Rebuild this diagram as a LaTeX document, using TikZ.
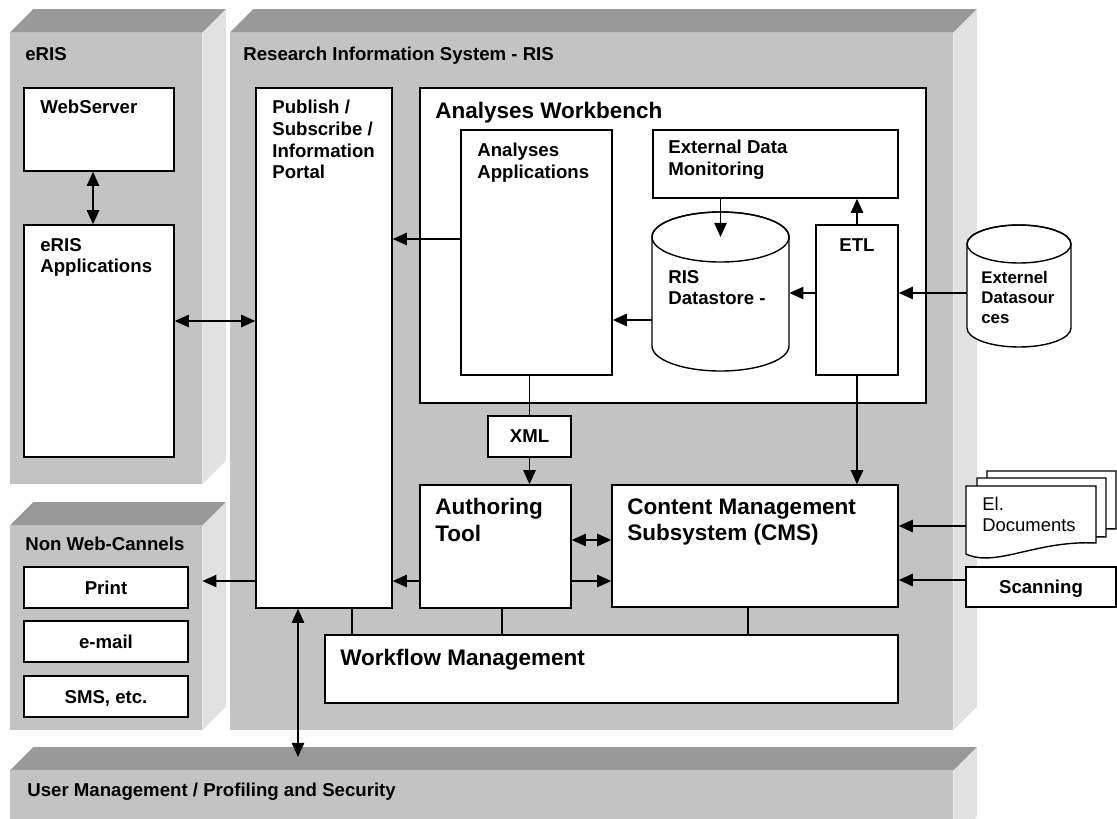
\documentclass[tikz,border=0pt]{standalone}
\usepackage{fontspec}
\setmainfont{Liberation Sans}
\usetikzlibrary{arrows.meta,fit,calc}
\definecolor{topgray}{HTML}{999999}
\definecolor{frontgray}{HTML}{C3C3C3}
\definecolor{sidegray}{HTML}{E1E1E1}
\newcommand\smallbf{\fontsize{10.6pt}{12.3pt}\selectfont\bfseries}
\newcommand\largebf{\fontsize{12.8pt}{15.1pt}\selectfont\bfseries}
% a 3D slab: front face as a named node, plus top and side faces
\newcommand\slab[5]{%
  \node[front, fit={(#2,#3)(#4,#5)}] (#1) {};
  \fill[topgray] (#1.north west) -- ++(23.5,-23.5) -- ($(#1.north east)+(23.5,-23.5)$) -- (#1.north east) -- cycle;
  \fill[sidegray] (#1.north east) -- ++(23.5,-23.5) -- ($(#1.south east)+(23.5,-23.5)$) -- (#1.south east) -- cycle;
}
\begin{document}
\begin{tikzpicture}[x=0.02cm,y=-0.02cm,
  front/.style={fill=frontgray, inner sep=0pt, draw=none},
  box/.style={draw, fill=white, inner sep=0pt, line width=0.8pt},
  frame/.style={inner sep=0pt, draw=none},
  lbl/.style={inner sep=0pt, anchor=north west, align=left, font=\smallbf},
  biglbl/.style={lbl, font=\largebf},
  midlbl/.style={inner sep=0pt, text depth=0pt, anchor=center, font=\smallbf},
  conn/.style={line width=0.8pt},
  tipa/.tip={Triangle[length=8pt,width=7pt]},
  arr/.style={conn, -tipa},
  darr/.style={conn, tipa-tipa},
]
\useasboundingbox (0,0) rectangle (1117,819);
\clip (0,0) rectangle (1117,819);

% blocks
\slab{eris}{10}{33}{202}{484}
\slab{ris}{230}{33}{953}{730}
\slab{nonweb}{10}{526}{202}{730}
\slab{usermgmt}{10}{771}{953}{840}

\node[lbl] (erisT) at (25,47) {eRIS};
\node[lbl] (risT) at (243,47) {Research Information System - RIS};
\node[lbl] (nonwebT) at (25,537) {Non Web-Cannels};
\node[lbl] (userT) at (27,783) {User Management / Profiling and Security};

% eRIS
\node[box, fit={(24,88)(174,171)}] (web) {};
\node[lbl] (webT) at (40,100) {WebServer};
\node[box, fit={(24,225)(174,457)}] (eapp) {};
\node[lbl] (eappT) at (40,238) {eRIS\\Applications};

% RIS
\node[box, fit={(256,88)(392,608)}] (pub) {};
\node[lbl] (pubT) at (272,100) {Publish /\\Subscribe /\\Information\\Portal};
\node[box, fit={(420,88)(926,403)}] (awb) {};
\node[biglbl] (awbT) at (435,102) {Analyses Workbench};
\node[box, fit={(461,130)(612,375)}] (aapp) {};
\node[lbl] (aappT) at (477,143) {Analyses\\Applications};
\node[box, fit={(653,130)(898,198)}] (edm) {};
\node[lbl] (edmT) at (668,140) {External Data\\Monitoring};
\node[box, fit={(816,225)(898,375)}] (etl) {};
\node[lbl, anchor=north] (etlT) at (857,238) {ETL};

% RIS datastore cylinder
\node[frame, fit={(652,212)(789,371)}] (ds) {};
\filldraw[conn, fill=white] (652,237) -- (652,346) arc[start angle=180, end angle=0, x radius=68.5, y radius=25]
  -- (789,237) arc[start angle=0, end angle=-180, x radius=68.5, y radius=25] -- cycle;
\draw[conn] (720.5,237) ellipse[x radius=68.5, y radius=25];
\coordinate (dstop) at (720.5,237);
\node[lbl] (dsT) at (668,270) {RIS\\Datastore -};

% external data sources cylinder
\node[frame, fit={(967,225)(1071,347)}] (ext) {};
\filldraw[conn, fill=white] (967,244) -- (967,328) arc[start angle=180, end angle=0, x radius=52, y radius=19]
  -- (1071,244) arc[start angle=0, end angle=-180, x radius=52, y radius=19] -- cycle;
\draw[conn] (1019,244) ellipse[x radius=52, y radius=19];
\node[lbl, font=\fontsize{9.6pt}{11.3pt}\selectfont\bfseries] (extT) at (981,271) {Externel\\Datasour\\ces};

\node[box, fit={(488,416)(571,457)}] (xml) {};
\node[midlbl] (xmlT) at (xml.center) {XML};
\node[box, fit={(420,485)(571,608)}] (auth) {};
\node[biglbl] (authT) at (435,498) {Authoring\\Tool};
\node[box, fit={(612,485)(898,607)}] (cms) {};
\node[biglbl] (cmsT) at (627,498) {Content Management\\Subsystem (CMS)};
\node[box, fit={(325,635)(898,703)}] (wf) {};
\node[biglbl] (wfT) at (340,649) {Workflow Management};

% non web channels
\node[box, fit={(24,567)(188,608)}] (print) {};
\node[midlbl] (printT) at (print.center) {Print};
\node[box, fit={(24,621)(188,662)}] (email) {};
\node[midlbl] (emailT) at (email.center) {e-mail};
\node[box, fit={(24,676)(188,717)}] (sms) {};
\node[midlbl] (smsT) at (sms.center) {SMS, etc.};

% inputs on the right
\filldraw[conn, fill=white] (987,471) -- (1116,471) -- (1116,529)
  .. controls (1056,526) and (1017,554) .. (987,540) -- cycle;
\filldraw[conn, fill=white] (977,478) -- (1106,478) -- (1106,537)
  .. controls (1046,534) and (1007,562) .. (977,548) -- cycle;
\filldraw[conn, fill=white] (966,486) -- (1096,486) -- (1096,543)
  .. controls (1036,540) and (996,568) .. (966,554) -- cycle;
\node[frame, fit={(966,486)(1096,554)}] (docs) {};
\node[lbl, font=\fontsize{10.5pt}{11.7pt}\selectfont] (docsT) at (982,497) {El.\\Documents};
\node[box, fit={(966,567)(1116,607)}] (scan) {};
\node[midlbl] (scanT) at (scan.center) {Scanning};

% connectors
\draw[darr] (web.south -| 93,0) -- (eapp.north -| 93,0);
\draw[darr] (eapp.east |- 0,321) -- (pub.west |- 0,321);
\draw[arr] (aapp.west |- 0,239) -- (pub.east |- 0,239);
\draw[arr] (ds.west |- 0,320) -- (aapp.east |- 0,320);
\draw[arr] (etl.west |- 0,293) -- (ds.east |- 0,293);
\draw[arr] (ext.west |- 0,293) -- (etl.east |- 0,293);
\draw[arr] (etl.north) -- (etl.north |- edm.south);
\draw[arr] (edm.south -| dstop) -- (dstop);
\draw[conn] (aapp.south -| xml.north) -- (xml.north);
\draw[arr] (xml.south) -- (auth.north -| xml.south);
\draw[arr] (etl.south) -- (cms.north -| etl.south);
\draw[darr] (auth.east |- 0,540) -- (cms.west |- 0,540);
\draw[arr] (auth.east |- 0,581) -- (cms.west |- 0,581);
\draw[arr] (auth.west |- 0,581) -- (pub.east |- 0,581);
\draw[arr] (pub.west |- 0,581) -- (nonweb.east |- 0,581);
\coordinate (umtop) at (298,757);
\draw[darr] (pub.south -| umtop) -- (umtop);
\draw[conn] (pub.south -| 352,0) -- (wf.north -| 352,0);
\draw[conn] (auth.south -| 502,0) -- (wf.north -| 502,0);
\draw[conn] (cms.south -| 748,0) -- (wf.north -| 748,0);
\draw[arr] (docs.west |- 0,526) -- (cms.east |- 0,526);
\draw[arr] (scan.west |- 0,580) -- (cms.east |- 0,580);
\end{tikzpicture}
\end{document}
